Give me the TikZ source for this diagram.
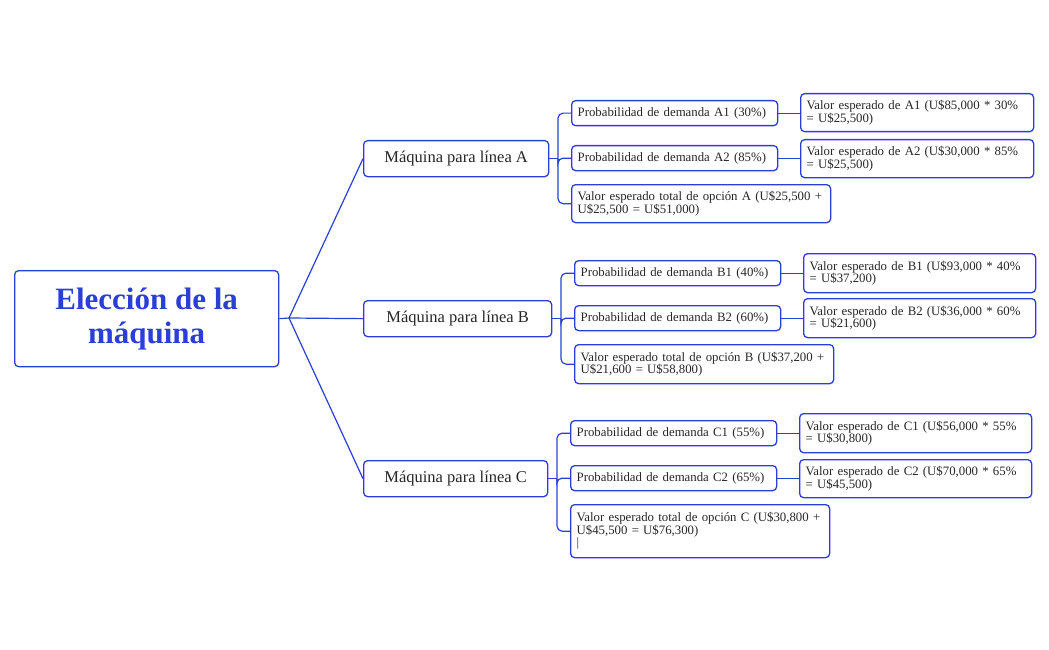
\documentclass[tikz,border=0pt]{standalone}
\usepackage{fontspec}
\setmainfont{Liberation Serif}
\begin{document}
\begin{tikzpicture}[x=1pt,y=-1pt,
  every node/.style={inner sep=0pt},
  base/.style={draw=bl,line width=1.3pt,rounded corners=4pt,fill=white,anchor=north west,text=black!85},
  lnk/.style={draw=bl,line width=1.2pt},
]
\definecolor{bl}{HTML}{2B3FD8}
\fill[white] (0,0) rectangle (1049,650);
\useasboundingbox (0,0) rectangle (1049,650);
\newcommand\bx[6]{\node[base,minimum width=#4,minimum height=#5,text width=#4-12pt,align=left,inner xsep=6pt,font=\fontsize{12.8}{12.5}\selectfont] (#1) at (#2,#3) {#6};}
% root
\node[base,minimum width=264,minimum height=96,align=center,text=bl,font=\fontsize{31}{34}\selectfont\bfseries] (root) at (14,270) {Elección de la\\máquina};
\foreach \n/\y/\w/\t in {A/140/185/A,B/300/188/B,C/460/184/C}{
  \node[base,minimum width=\w,minimum height=36,align=center,font=\fontsize{16.5}{18}\selectfont] (\n) at (363,\y) {Máquina para línea \t};
}
\coordinate (r) at (289,318);
\draw[lnk] (root.east) -- (r);
\foreach \n in {A,B,C}{\draw[lnk] (r) -- (\n.west);}
% A
\bx{A1}{571}{100}{206}{25}{Probabilidad de demanda A1 (30\%)}
\bx{A2}{571}{145}{206}{25}{Probabilidad de demanda A2 (85\%)}
\bx{A3}{571}{184}{259}{38}{Valor esperado total de opción A (U\$25,500 + U\$25,500 = U\$51,000)}
\bx{A1v}{800}{93}{233}{38}{Valor esperado de A1 (U\$85,000 * 30\% = U\$25,500)}
\bx{A2v}{800}{139}{233}{38}{Valor esperado de A2 (U\$30,000 * 85\% = U\$25,500)}
% B
\bx{B1}{574}{260}{206}{25}{Probabilidad de demanda B1 (40\%)}
\bx{B2}{574}{305}{206}{25}{Probabilidad de demanda B2 (60\%)}
\bx{B3}{574}{344}{259}{39}{Valor esperado total de opción B (U\$37,200 + U\$21,600 = U\$58,800)}
\bx{B1v}{803}{253}{232}{39}{Valor esperado de B1 (U\$93,000 * 40\% = U\$37,200)}
\bx{B2v}{803}{298}{232}{39}{Valor esperado de B2 (U\$36,000 * 60\% = U\$21,600)}
% C
\bx{C1}{570}{420}{206}{25}{Probabilidad de demanda C1 (55\%)}
\bx{C2}{570}{465}{206}{25}{Probabilidad de demanda C2 (65\%)}
\node[base,minimum width=259,minimum height=53,text width=247,align=left,inner xsep=6pt,inner ysep=5pt,font=\fontsize{12.8}{12.5}\selectfont] (C3) at (570,504) {Valor esperado total de opción C (U\$30,800 + U\$45,500 = U\$76,300)\\|};
\bx{C1v}{799}{413}{232}{39}{Valor esperado de C1 (U\$56,000 * 55\% = U\$30,800)}
\bx{C2v}{799}{459}{232}{38}{Valor esperado de C2 (U\$70,000 * 65\% = U\$45,500)}
\foreach \p/\x in {A/558,B/561,C/557}{
  \coordinate (\p j) at (\x,0);
  \draw[lnk] (\p.east) -- (\p.east -| \p j);
  \foreach \k in {1,2,3}{\draw[lnk,rounded corners=5pt] (\p.east -| \p j) |- (\p\k.west);}
  \foreach \k in {1,2}{\draw[lnk] (\p\k.east) -- (\p\k v.west |- \p\k.east);}
}
\end{tikzpicture}
\end{document}
